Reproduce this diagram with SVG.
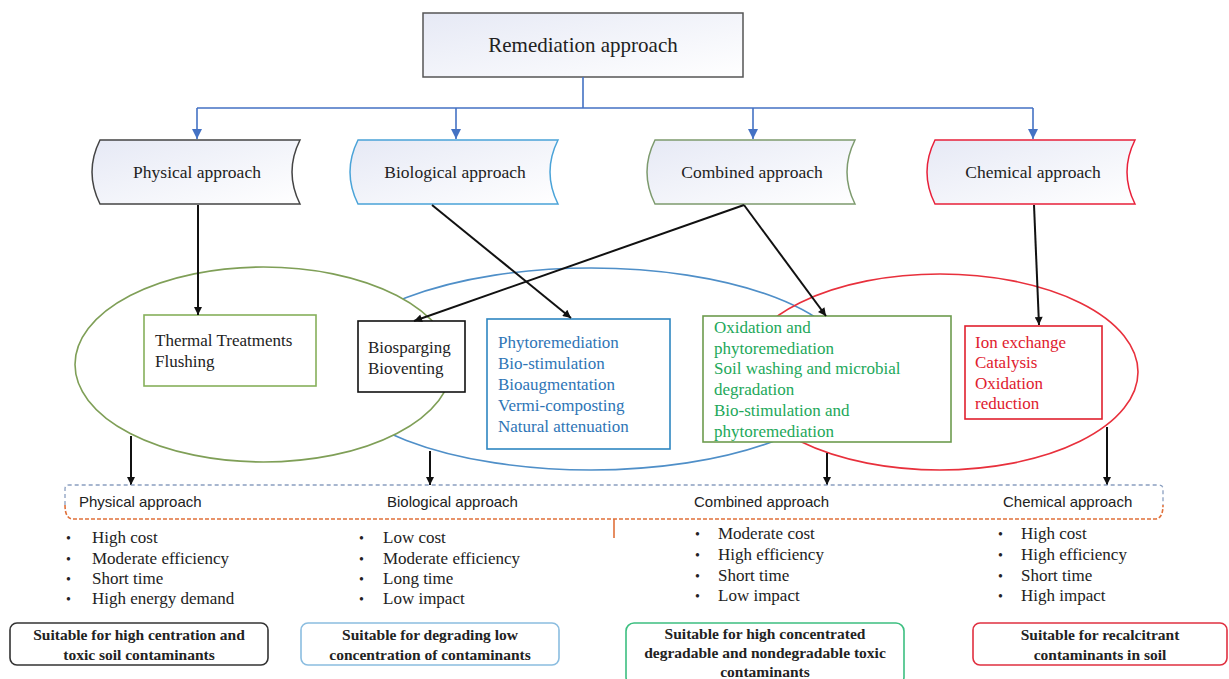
<svg xmlns="http://www.w3.org/2000/svg" width="1229" height="679" viewBox="0 0 1229 679">
<style>
.serif{font-family:"Liberation Serif","Times New Roman",serif}
.sans{font-family:"Liberation Sans",Arial,sans-serif}
.blk{stroke:#111;stroke-width:2;fill:none}
.blu{stroke:#4472c4;stroke-width:1.6;fill:none}
.box{fill:#fff;stroke-width:1.6}
.appr{font-size:17.5px;fill:#222;text-anchor:middle}
.item{font-size:17px}
.bul{font-size:17px;fill:#222}
.dot{font-size:14px;fill:#222}
.hdr{font-size:15px;fill:#222}
.suit{font-size:15.5px;font-weight:bold;fill:#222;text-anchor:middle}
</style>
<defs>
<linearGradient id="g" x1="0" y1="0" x2="1" y2="1">
<stop offset="0" stop-color="#e6e9f5"/><stop offset="1" stop-color="#ffffff"/>
</linearGradient>
<marker id="ab" viewBox="0 0 10 10" refX="10" refY="5" markerWidth="10" markerHeight="8" markerUnits="userSpaceOnUse" orient="auto"><path d="M0,0 L10,5 L0,10 z" fill="#111"/></marker>
<marker id="au" viewBox="0 0 10 10" refX="10" refY="5" markerWidth="12" markerHeight="10" markerUnits="userSpaceOnUse" orient="auto"><path d="M0,0 L10,5 L0,10 z" fill="#4472c4"/></marker>
<path id="sh" d="M0,0 H200 Q184,32 200,64 H0 Q-16,32 0,0 Z"/>
</defs>
<rect width="1229" height="679" fill="#fff"/>

<g id="ellipses" stroke-width="1.6">
<ellipse cx="591" cy="369" rx="261" ry="101" stroke="#4f8fc8" fill="none"/>
<ellipse cx="263.5" cy="364.5" rx="188.5" ry="97.5" stroke="#7f9f57" fill="#fff"/>
<ellipse cx="940" cy="372" rx="198" ry="98" stroke="#e8303c" fill="none"/>
</g>

<g id="root">
<rect x="423" y="13" width="320" height="64" fill="url(#g)" stroke="#555" stroke-width="1.5"/>
<text class="serif" x="583" y="52" font-size="21" fill="#222" text-anchor="middle">Remediation approach</text>
</g>

<g id="physical">
<use href="#sh" transform="translate(100,140)" fill="url(#g)" stroke="#444" stroke-width="1.5"/>
<text class="serif appr" x="197" y="178">Physical approach</text>
</g>
<g id="biological">
<use href="#sh" transform="translate(358,140)" fill="url(#g)" stroke="#4aa3d8" stroke-width="1.5"/>
<text class="serif appr" x="455" y="178">Biological approach</text>
</g>
<g id="combined">
<use href="#sh" transform="translate(655,140)" fill="url(#g)" stroke="#7d9a6e" stroke-width="1.5"/>
<text class="serif appr" x="752" y="178">Combined approach</text>
</g>
<g id="chemical">
<use href="#sh" transform="translate(935,140)" fill="url(#g)" stroke="#e8203a" stroke-width="1.5"/>
<text class="serif appr" x="1033" y="178">Chemical approach</text>
</g>

<g id="thermal">
<rect class="box" x="144" y="315" width="172" height="71" stroke="#86b05a"/>
<text class="serif item" fill="#222"><tspan x="155" y="346">Thermal Treatments</tspan><tspan x="155" y="367">Flushing</tspan></text>
</g>
<g id="biosparging">
<rect class="box" x="358" y="321" width="107" height="71" stroke="#111"/>
<text class="serif item" fill="#222"><tspan x="368" y="353">Biosparging</tspan><tspan x="368" y="374">Bioventing</tspan></text>
</g>
<g id="bio-methods">
<rect class="box" x="487" y="319" width="183" height="130" stroke="#2e86c1"/>
<text class="serif item" fill="#2e75b6"><tspan x="498" y="348">Phytoremediation</tspan><tspan x="498" y="369">Bio-stimulation</tspan><tspan x="498" y="390">Bioaugmentation</tspan><tspan x="498" y="411">Vermi-composting</tspan><tspan x="498" y="432">Natural attenuation</tspan></text>
</g>
<g id="combined-methods">
<rect class="box" x="703" y="316" width="248" height="126" stroke="#6d9b4e"/>
<text class="serif item" fill="#22a85a"><tspan x="714" y="333">Oxidation  and</tspan><tspan x="714" y="354">phytoremediation</tspan><tspan x="714" y="374">Soil washing and microbial</tspan><tspan x="714" y="395">degradation</tspan><tspan x="714" y="416">Bio-stimulation and</tspan><tspan x="714" y="437">phytoremediation</tspan></text>
</g>
<g id="chem-methods">
<rect class="box" x="965" y="326" width="137" height="93" stroke="#e0202e"/>
<text class="serif item" fill="#e0202e"><tspan x="975" y="348">Ion exchange</tspan><tspan x="975" y="368">Catalysis</tspan><tspan x="975" y="389">Oxidation</tspan><tspan x="975" y="409">reduction</tspan></text>
</g>

<g id="connectors">
<path class="blu" d="M583,77 V108 M197,108 H1033"/>
<path class="blu" d="M197,108 V139" marker-end="url(#au)"/>
<path class="blu" d="M456,108 V139" marker-end="url(#au)"/>
<path class="blu" d="M753,108 V139" marker-end="url(#au)"/>
<path class="blu" d="M1033,108 V139" marker-end="url(#au)"/>
<path class="blk" d="M198,205 V315" marker-end="url(#ab)"/>
<path class="blk" d="M432,205 L571,318" marker-end="url(#ab)"/>
<path class="blk" d="M744,205 L414,321" marker-end="url(#ab)"/>
<path class="blk" d="M744,205 L826,316" marker-end="url(#ab)"/>
<path class="blk" d="M1034,205 L1039,325" marker-end="url(#ab)"/>
<path class="blk" d="M131,436 V485" marker-end="url(#ab)"/>
<path class="blk" d="M430,451 V485" marker-end="url(#ab)"/>
<path class="blk" d="M827,453 V485" marker-end="url(#ab)"/>
<path class="blk" d="M1107,427 V485" marker-end="url(#ab)"/>
</g>

<g id="summary-bar">
<path d="M65,505 V489 Q65,485 69,485 H1159 Q1163,485 1163,489 V505" fill="none" stroke="#8a9fc0" stroke-width="1.3" stroke-dasharray="4,3"/>
<path d="M65,505 Q65,519 73,519 H1155 Q1163,519 1163,505" fill="none" stroke="#e0703a" stroke-width="1.6" stroke-dasharray="4,2"/>
<path d="M614,519 V538" stroke="#e0703a" stroke-width="1.6"/>
<text class="sans hdr" x="79" y="507">Physical approach</text>
<text class="sans hdr" x="387" y="507">Biological approach</text>
<text class="sans hdr" x="694" y="507">Combined approach</text>
<text class="sans hdr" x="1003" y="507">Chemical approach</text>
</g>

<g id="physical-traits" class="serif bul">
<text class="dot" x="66" y="543">•</text><text x="92" y="543">High cost</text>
<text class="dot" x="66" y="564">•</text><text x="92" y="564">Moderate efficiency</text>
<text class="dot" x="66" y="584">•</text><text x="92" y="584">Short time</text>
<text class="dot" x="66" y="604">•</text><text x="92" y="604">High energy demand</text>
</g>
<g id="biological-traits" class="serif bul">
<text class="dot" x="359" y="543">•</text><text x="383" y="543">Low cost</text>
<text class="dot" x="359" y="564">•</text><text x="383" y="564">Moderate efficiency</text>
<text class="dot" x="359" y="584">•</text><text x="383" y="584">Long time</text>
<text class="dot" x="359" y="604">•</text><text x="383" y="604">Low impact</text>
</g>
<g id="combined-traits" class="serif bul">
<text class="dot" x="695" y="539">•</text><text x="718" y="539">Moderate cost</text>
<text class="dot" x="695" y="560">•</text><text x="718" y="560">High efficiency</text>
<text class="dot" x="695" y="581">•</text><text x="718" y="581">Short time</text>
<text class="dot" x="695" y="601">•</text><text x="718" y="601">Low impact</text>
</g>
<g id="chemical-traits" class="serif bul">
<text class="dot" x="998" y="539">•</text><text x="1021" y="539">High cost</text>
<text class="dot" x="998" y="560">•</text><text x="1021" y="560">High efficiency</text>
<text class="dot" x="998" y="581">•</text><text x="1021" y="581">Short time</text>
<text class="dot" x="998" y="601">•</text><text x="1021" y="601">High impact</text>
</g>

<g id="suit-physical">
<rect x="10" y="623" width="258" height="42" rx="7" fill="#fff" stroke="#333" stroke-width="1.6"/>
<text class="serif suit"><tspan x="139" y="640">Suitable for high centration and</tspan><tspan x="139" y="660">toxic soil contaminants</tspan></text>
</g>
<g id="suit-biological">
<rect x="301" y="623" width="258" height="42" rx="7" fill="#fff" stroke="#8bbde0" stroke-width="1.6"/>
<text class="serif suit"><tspan x="430" y="640">Suitable for degrading low</tspan><tspan x="430" y="660">concentration of contaminants</tspan></text>
</g>
<g id="suit-combined">
<rect x="626" y="623" width="278" height="62" rx="8" fill="#fff" stroke="#3cbf80" stroke-width="1.6"/>
<text class="serif suit"><tspan x="765" y="639">Suitable for high concentrated</tspan><tspan x="765" y="658">degradable and nondegradable toxic</tspan><tspan x="765" y="677">contaminants</tspan></text>
</g>
<g id="suit-chemical">
<rect x="973" y="623" width="254" height="42" rx="7" fill="#fff" stroke="#e03040" stroke-width="1.6"/>
<text class="serif suit"><tspan x="1100" y="640">Suitable for recalcitrant</tspan><tspan x="1100" y="660">contaminants in soil</tspan></text>
</g>
</svg>
